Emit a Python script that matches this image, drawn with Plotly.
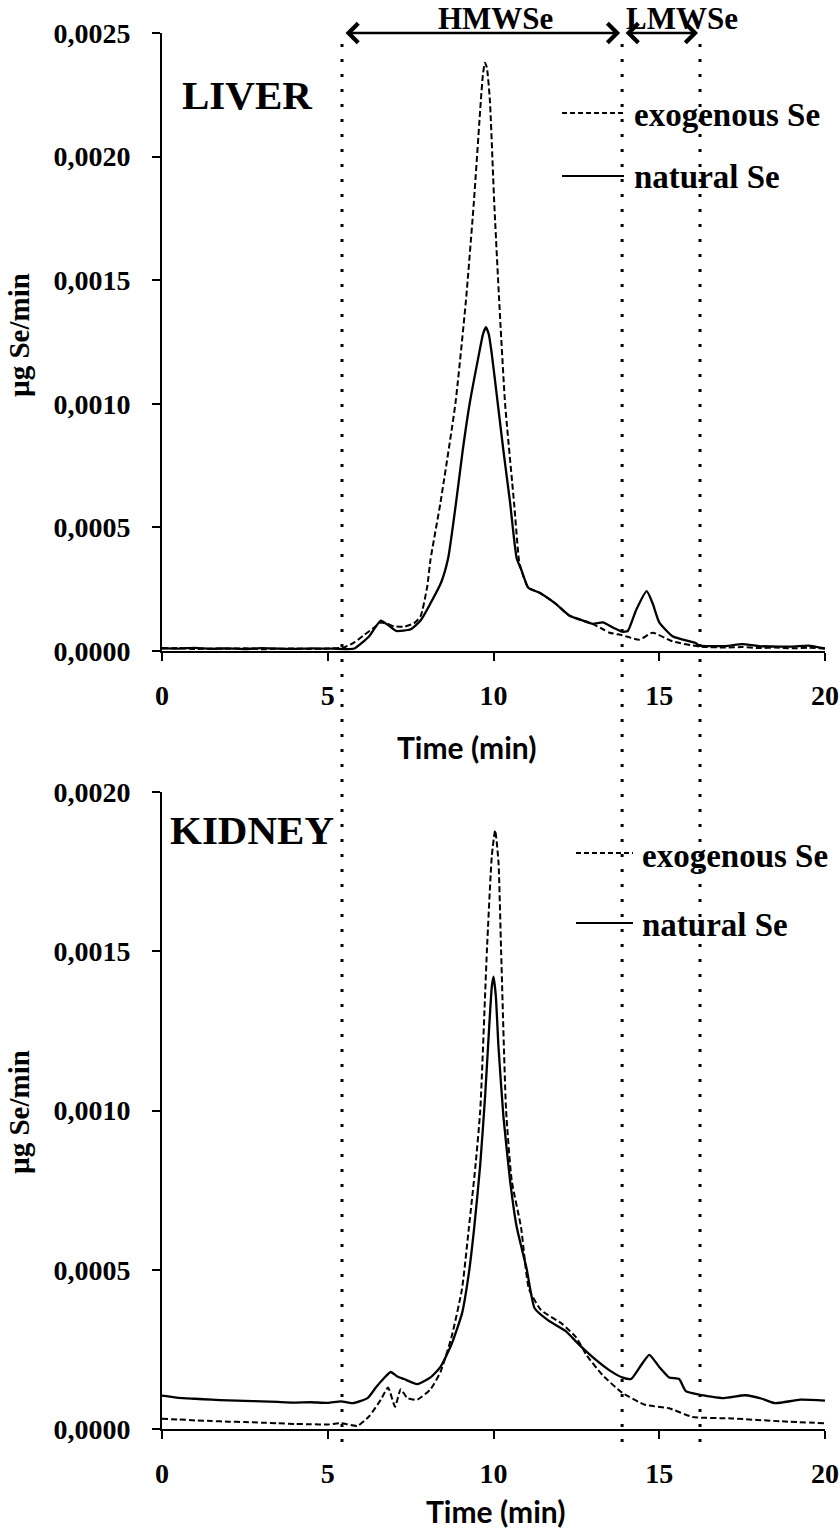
import plotly.graph_objects as go

# ---------------- DATA ----------------
# LIVER – exogenous Se (dashed)
liver_exo_t = [0.0, 0.5, 1.0, 1.5, 2.0, 2.5, 3.0, 3.5, 4.0, 4.5, 5.0, 5.5, 5.8, 6.1, 6.4, 6.6, 6.8,
               7.0, 7.3, 7.6, 7.8, 8.0, 8.1, 8.4, 8.85, 9.17, 9.41, 9.62, 9.68, 9.74, 9.8, 9.89,
               10.02, 10.17, 10.35, 10.62, 10.77, 10.83, 11.05, 11.4, 11.86, 12.28, 12.7, 13.0,
               13.3, 13.5, 13.88, 14.4, 14.8, 15.4, 16.2, 17.0, 17.5, 18.0, 18.5, 19.0, 19.5, 20.0]
liver_exo_v = [0.10, 0.12, 0.08, 0.10, 0.09, 0.11, 0.07, 0.09, 0.10, 0.08, 0.10, 0.15, 0.35, 0.65,
               0.95, 1.15, 1.10, 1.00, 0.98, 1.12, 1.40, 2.60, 3.70, 6.00, 10.0, 14.2, 18.2, 22.3,
               23.3, 23.8, 23.6, 22.3, 18.2, 14.2, 10.0, 6.0, 3.65, 3.32, 2.56, 2.35, 1.93, 1.44,
               1.23, 1.09, 0.88, 0.74, 0.64, 0.46, 0.74, 0.39, 0.18, 0.14, 0.16, 0.12, 0.14, 0.11,
               0.13, 0.10]

# LIVER – natural Se (solid)
liver_nat_t = [0.0, 0.5, 1.0, 1.5, 2.0, 2.5, 3.0, 3.5, 4.0, 4.5, 5.0, 5.5, 5.8, 6.25, 6.6, 6.87,
               7.07, 7.5, 7.8, 8.1, 8.42, 8.63, 8.87, 9.07, 9.28, 9.56, 9.68, 9.77, 9.86, 9.95, 10.13,
               10.3, 10.5, 10.7, 10.83, 11.05, 11.4, 11.86, 12.28, 12.7, 13.0, 13.3, 13.6, 13.88,
               14.05, 14.3, 14.62, 14.8, 15.0, 15.4, 15.8, 16.1, 16.2, 17.0, 17.5, 18.0, 19.0,
               19.5, 20.0]
liver_nat_v = [0.12, 0.10, 0.13, 0.09, 0.11, 0.08, 0.12, 0.10, 0.09, 0.11, 0.10, 0.08, 0.10, 0.60,
               1.23, 1.00, 0.81, 0.88, 1.23, 1.93, 2.77, 3.74, 6.0, 8.1, 10.0, 12.0, 12.8, 13.1,
               12.8, 12.0, 10.0, 8.1, 6.0, 3.74, 3.32, 2.56, 2.35, 1.93, 1.44, 1.23, 1.10, 1.16,
               0.95, 0.78, 0.81, 1.65, 2.42, 1.93, 1.16, 0.60, 0.43, 0.32, 0.22, 0.20, 0.28, 0.20,
               0.18, 0.22, 0.10]

# KIDNEY – exogenous Se (dashed)
kidney_exo_t = [0.0, 0.5, 1.0, 1.5, 2.0, 2.5, 3.0, 3.5, 4.0, 4.5, 5.0, 5.4, 5.9, 6.25, 6.6, 6.82,
                7.03, 7.2, 7.4, 7.7, 8.1, 8.4, 8.73, 9.05, 9.26, 9.45, 9.6, 9.8, 9.95, 10.05, 10.15,
                10.23, 10.38, 10.55, 10.83, 11.07, 11.43, 12.07, 12.5, 12.8, 13.3, 13.88, 14.57,
                15.3, 16.0, 17.2, 18.7, 20.0]
kidney_exo_v = [0.32, 0.30, 0.27, 0.25, 0.23, 0.22, 0.20, 0.18, 0.16, 0.15, 0.14, 0.18, 0.10, 0.40,
                0.92, 1.30, 0.70, 1.25, 0.97, 0.92, 1.25, 1.79, 2.87, 4.40, 6.34, 8.20, 10.0, 15.0,
                18.0, 18.8, 17.8, 15.0, 10.0, 7.80, 6.34, 4.40, 3.74, 3.30, 2.87, 2.33, 1.68, 1.14,
                0.76, 0.65, 0.38, 0.33, 0.24, 0.18]

# KIDNEY – natural Se (solid)
kidney_nat_t = [0.0, 0.5, 1.0, 1.5, 2.0, 2.5, 3.0, 3.5, 4.0, 4.5, 5.0, 5.4, 5.75, 6.2, 6.45, 6.7,
                6.9, 7.1, 7.3, 7.7, 8.1, 8.4, 8.73, 9.05, 9.26, 9.42, 9.6, 9.75, 9.88, 9.95, 10.0,
                10.07, 10.15, 10.3, 10.5, 10.7, 11.0, 11.24, 11.65, 12.17, 12.58, 13.1, 13.5, 13.88,
                14.15, 14.45, 14.7, 15.0, 15.3, 15.6, 15.8, 16.2, 16.95, 17.6, 18.1, 18.5, 19.25, 20.0]
kidney_nat_v = [1.05, 0.98, 0.95, 0.92, 0.90, 0.88, 0.87, 0.85, 0.83, 0.84, 0.82, 0.87, 0.81, 0.97,
                1.30, 1.60, 1.79, 1.65, 1.57, 1.41, 1.62, 1.95, 2.65, 3.63, 4.92, 6.34, 8.30, 10.5,
                12.8, 13.9, 14.2, 13.6, 12.0, 9.8, 7.8, 6.34, 5.03, 3.79, 3.41, 3.08, 2.65, 2.16,
                1.84, 1.62, 1.57, 2.00, 2.33, 1.95, 1.62, 1.57, 1.19, 1.08, 0.97, 1.06, 0.95, 0.81,
                0.92, 0.89]

SCALE = 1e-4  # values above are in units of 1e-4 µg Se/min

x_ticks = [0, 5, 10, 15, 20]
liver_y_ticks = [0.0, 0.0005, 0.0010, 0.0015, 0.0020, 0.0025]
kidney_y_ticks = [0.0, 0.0005, 0.0010, 0.0015, 0.0020]
fraction_bounds = [5.43, 13.88, 16.23]
fraction_labels = ["HMWSe", "LMWSe"]
series_names = ["exogenous Se", "natural Se"]
panel_names = ["LIVER", "KIDNEY"]

# ---------------- LAYOUT GEOMETRY ----------------
W, H = 840, 1528
ML, MR, MT, MB = 162, 15, 33, 99
PW, PH = W - ML - MR, H - MT - MB


def px(xp):
    return (xp - ML) / PW


def py(yp):
    return (H - MB - yp) / PH


top_dom = [py(651), 1.0]
bot_dom = [0.0, py(792)]

SERIF = "Liberation Serif"
SANS = "Lato"

fig = go.Figure()
dash_style = "6px,3px"
line_common = dict(color="black", shape="spline", smoothing=0.5)
fig.add_trace(go.Scatter(x=liver_exo_t, y=[v * SCALE for v in liver_exo_v], mode="lines",
                         line=dict(width=2, dash=dash_style, **line_common),
                         xaxis="x", yaxis="y", name=series_names[0]))
fig.add_trace(go.Scatter(x=liver_nat_t, y=[v * SCALE for v in liver_nat_v], mode="lines",
                         line=dict(width=2.3, **line_common),
                         xaxis="x", yaxis="y", name=series_names[1]))
fig.add_trace(go.Scatter(x=kidney_exo_t, y=[v * SCALE for v in kidney_exo_v], mode="lines",
                         line=dict(width=2, dash=dash_style, **line_common),
                         xaxis="x2", yaxis="y2", name=series_names[0]))
fig.add_trace(go.Scatter(x=kidney_nat_t, y=[v * SCALE for v in kidney_nat_v], mode="lines",
                         line=dict(width=2.3, **line_common),
                         xaxis="x2", yaxis="y2", name=series_names[1]))

tickfont = dict(family=SERIF, size=28, color="black", weight="bold")
xcommon = dict(range=[0, 20], tickvals=x_ticks, ticks="outside", ticklen=8, tickwidth=2,
               tickcolor="black", showline=True, linewidth=2, linecolor="black",
               showgrid=False, zeroline=False, tickfont=tickfont, ticklabelstandoff=10,
               fixedrange=True)
ycommon = dict(ticks="outside", ticklen=8, tickwidth=2, tickcolor="black", showline=True,
               linewidth=2, linecolor="black", showgrid=False, zeroline=False,
               tickfont=tickfont, tickformat=".4f", ticklabelstandoff=16, fixedrange=True)

fig.update_layout(
    width=W, height=H,
    margin=dict(l=ML, r=MR, t=MT, b=MB, autoexpand=False),
    paper_bgcolor="white", plot_bgcolor="white",
    showlegend=False, separators=",.",
    xaxis=dict(domain=[0, 1], anchor="y", **xcommon),
    yaxis=dict(domain=top_dom, anchor="x", range=[0, 0.0025], tickvals=liver_y_ticks, **ycommon),
    xaxis2=dict(domain=[0, 1], anchor="y2", **xcommon),
    yaxis2=dict(domain=bot_dom, anchor="x2", range=[0, 0.0020], tickvals=kidney_y_ticks, **ycommon),
)

shapes = []
# vertical dotted fraction boundaries spanning both panels
for xb in fraction_bounds:
    shapes.append(dict(type="line", xref="x", yref="paper", x0=xb, x1=xb,
                       y0=py(1442), y1=1.0,
                       line=dict(color="black", width=3, dash="3px,12px")))
# legend samples
for (x0p, x1p, yp, d) in [(562, 624, 113, "5px,3px"),
                          (562, 624, 176, "solid"),
                          (576, 633, 853, "5px,3px"),
                          (576, 633, 923, "solid")]:
    shapes.append(dict(type="line", xref="paper", yref="paper", x0=px(x0p), x1=px(x1p),
                       y0=py(yp), y1=py(yp), line=dict(color="black", width=2, dash=d)))
fig.update_layout(shapes=shapes)

ann = []
# fraction arrows
for (xa, xb) in [(fraction_bounds[0], fraction_bounds[1]), (fraction_bounds[1], fraction_bounds[2])]:
    ann.append(dict(x=xb, y=0.0025, ax=xa, ay=0.0025, xref="x", yref="y", axref="x", ayref="y",
                    text="", showarrow=True, arrowside="end+start", arrowhead=4, startarrowhead=4,
                    arrowsize=1.5, startarrowsize=1.5, arrowwidth=2.5, arrowcolor="black",
                    standoff=2, startstandoff=2))
lbl_font = dict(family=SERIF, size=31, color="black", weight="bold")
ann.append(dict(x=px(495), y=py(19), xref="paper", yref="paper", text=fraction_labels[0],
                showarrow=False, xanchor="center", yanchor="middle", font=lbl_font))
ann.append(dict(x=px(624), y=py(19), xref="paper", yref="paper", text=fraction_labels[1],
                showarrow=False, xanchor="left", yanchor="middle", font=lbl_font))
# panel names
ann.append(dict(x=px(180), y=py(95), xref="paper", yref="paper", text=panel_names[0],
                showarrow=False, xanchor="left", yanchor="middle",
                font=dict(family=SERIF, size=41, color="black", weight="bold")))
ann.append(dict(x=px(168), y=py(830), xref="paper", yref="paper", text=panel_names[1],
                showarrow=False, xanchor="left", yanchor="middle",
                font=dict(family=SERIF, size=41, color="black", weight="bold")))
# legend texts
leg_font = dict(family=SERIF, size=33, color="black", weight="bold")
for (xl, yl, t) in [(632, 115, series_names[0]), (632, 177, series_names[1]),
                    (640, 856, series_names[0]), (640, 925, series_names[1])]:
    ann.append(dict(x=px(xl), y=py(yl), xref="paper", yref="paper", text=t, showarrow=False,
                    xanchor="left", yanchor="middle", font=leg_font))
# axis titles
ytitle_font = dict(family=SERIF, size=29, color="black", weight="bold")
for yc in [335, 1112]:
    ann.append(dict(x=px(19), y=py(yc), xref="paper", yref="paper", text="µg Se/min",
                    showarrow=False, textangle=-90, xanchor="center", yanchor="middle",
                    font=ytitle_font))
xtitle_font = dict(family=SANS, size=30, color="black", weight="bold")
for (xc, yc) in [(466, 747), (495, 1511)]:
    ann.append(dict(x=px(xc), y=py(yc), xref="paper", yref="paper", text="Time (min)",
                    showarrow=False, xanchor="center", yanchor="middle", font=xtitle_font))
fig.update_layout(annotations=ann)

fig.write_html("out.html", config={"displayModeBar": False},
               post_script="document.body.style.margin='0px';")
